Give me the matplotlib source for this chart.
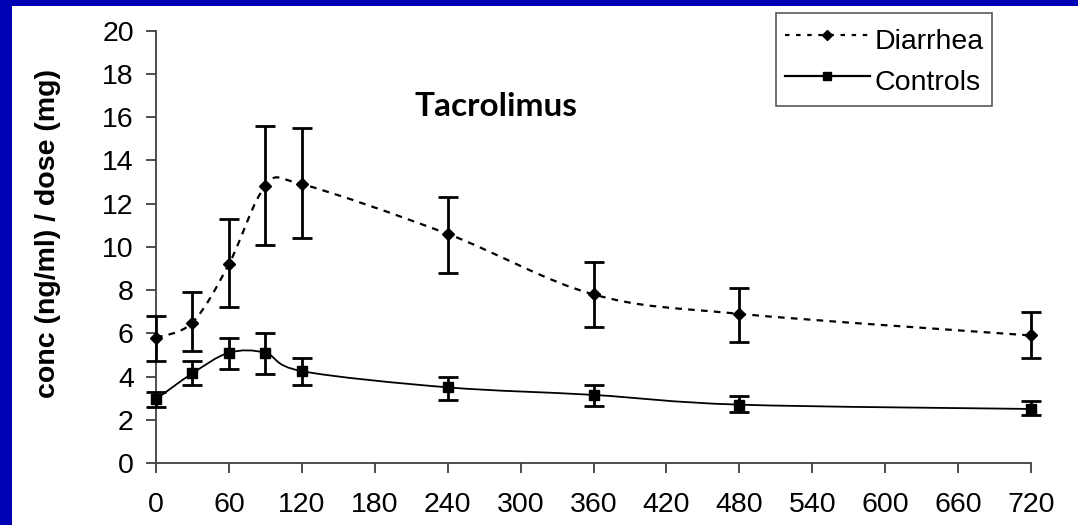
import matplotlib
matplotlib.use("Agg")
import matplotlib.pyplot as plt
from matplotlib.path import Path
from matplotlib.patches import PathPatch, Rectangle
from matplotlib.lines import Line2D
import numpy as np

plt.rcParams['font.family'] = ['Liberation Sans', 'DejaVu Sans']

# sampling times (min)
times = [0, 30, 60, 90, 120, 240, 360, 480, 720]

# Diarrhea group: mean and error bar ends
diar_mean = [5.8, 6.5, 9.2, 12.8, 12.9, 10.6, 7.8, 6.9, 5.9]
diar_lo = [4.7, 5.2, 7.2, 10.1, 10.4, 8.8, 6.3, 5.6, 4.85]
diar_hi = [6.8, 7.9, 11.3, 15.6, 15.5, 12.3, 9.3, 8.1, 7.0]

# Controls
ctrl_mean = [2.95, 4.15, 5.1, 5.1, 4.25, 3.5, 3.15, 2.7, 2.5]
ctrl_lo = [2.6, 3.6, 4.35, 4.1, 3.6, 2.9, 2.65, 2.35, 2.2]
ctrl_hi = [3.3, 4.7, 5.8, 6.0, 4.85, 4.0, 3.6, 3.1, 2.85]

xticks = list(range(0, 721, 60))
yticks = list(range(0, 21, 2))

BLUE = '#0000B4'
W, H = 1078, 525


def smooth_path(x, y):
    # Excel-style smoothed line: Catmull-Rom segments as cubic Beziers
    pts = np.column_stack([x, y]).astype(float)
    n = len(pts)
    verts = [pts[0]]
    codes = [Path.MOVETO]
    for i in range(n - 1):
        p0 = pts[i - 1] if i > 0 else pts[i]
        p1 = pts[i]
        p2 = pts[i + 1]
        p3 = pts[i + 2] if i + 2 < n else pts[i + 1]
        c1 = p1 + (p2 - p0) / 6.0
        c2 = p2 - (p3 - p1) / 6.0
        verts += [c1, c2, p2]
        codes += [Path.CURVE4] * 3
    return Path(verts, codes)


fig = plt.figure(figsize=(W / 100, H / 100), dpi=100)
fig.patch.set_facecolor(BLUE)
fig.patches.append(Rectangle((12 / W, 0), 1 - 12 / W, (H - 6) / H,
                             transform=fig.transFigure, facecolor='white',
                             edgecolor='none', zorder=-10))

ax = fig.add_axes([156 / W, (H - 463) / H, 875 / W, 432.3 / H])
ax.set_facecolor('none')
ax.set_zorder(1)

ax.add_patch(PathPatch(smooth_path(times, diar_mean), fill=False,
                       edgecolor='black', lw=1.6, linestyle=(0, (3, 2.8))))
ax.add_patch(PathPatch(smooth_path(times, ctrl_mean), fill=False,
                       edgecolor='black', lw=1.3))

d_err = [np.subtract(diar_mean, diar_lo), np.subtract(diar_hi, diar_mean)]
c_err = [np.subtract(ctrl_mean, ctrl_lo), np.subtract(ctrl_hi, ctrl_mean)]
ax.errorbar(times, diar_mean, yerr=d_err, fmt='D', color='black', ms=6,
            capsize=7.5, elinewidth=2, capthick=2, zorder=3, clip_on=False)
ax.errorbar(times, ctrl_mean, yerr=c_err, fmt='s', color='black', ms=7,
            capsize=7.5, elinewidth=2, capthick=2, zorder=3, clip_on=False)

ax.set_xlim(0, 720)
ax.set_ylim(0, 20)
ax.set_xticks(xticks)
ax.set_yticks(yticks)
for s in ['top', 'right']:
    ax.spines[s].set_visible(False)
for s in ['left', 'bottom']:
    ax.spines[s].set_color('#404040')
    ax.spines[s].set_linewidth(1.3)
ax.tick_params(axis='both', direction='out', length=7, width=1.3,
               color='#404040', labelsize=20.5)
ax.tick_params(axis='x', pad=14)
ax.tick_params(axis='y', pad=9)

fig.text(48 / W, 1 - 233 / H, 'conc (ng/ml) / dose (mg)', rotation=90,
         ha='center', va='center', fontsize=20.5, fontweight='bold')

fig.text(496 / W, 1 - 106 / H, 'Tacrolimus', ha='center', va='center',
         fontsize=24, fontweight='bold', family=['Lato', 'DejaVu Sans'])

handles = [
    Line2D([], [], color='black', lw=1.6, linestyle=(0, (2, 3)),
           marker='D', ms=5),
    Line2D([], [], color='black', lw=1.6, marker='s', ms=6),
]
leg = fig.legend(handles, ['Diarrhea', 'Controls'], loc='upper right',
                 bbox_to_anchor=(992 / W, 1 - 13 / H), borderaxespad=0,
                 fontsize=20.5, frameon=True, fancybox=False,
                 handlelength=3.0, handletextpad=0.15, labelspacing=0.2,
                 handleheight=1.53, borderpad=0.3)
leg.get_frame().set_edgecolor('#303030')
leg.get_frame().set_linewidth(1.2)
leg.set_zorder(5)

fig.savefig('out.png', dpi=100, facecolor=BLUE)
